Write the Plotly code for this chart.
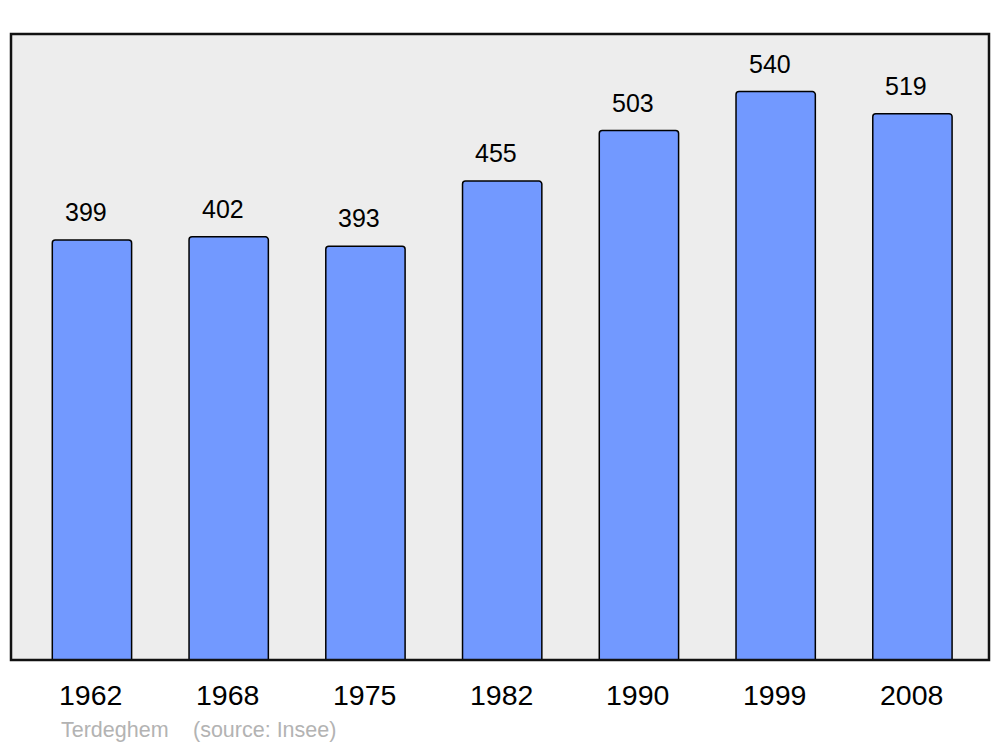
import plotly.graph_objects as go

# ── Data ──────────────────────────────────────────────────────────────────────
years = ["1962", "1968", "1975", "1982", "1990", "1999", "2008"]
population = [399, 402, 393, 455, 503, 540, 519]
commune = "Terdeghem"
source = "(source: Insee)"

BAR_COLOR = "#7299ff"
PLOT_BG = "#ededed"
FONT = "Liberation Sans, Arial, sans-serif"

W, H = 1000, 747
ML, MR, MT, MB = 11, 11, 34, 87

fig = go.Figure(go.Bar(
    x=years, y=population,
    width=0.58,
    marker=dict(color=BAR_COLOR, line=dict(color="#000", width=1.5), cornerradius=3),
    hoverinfo="x+y",
))

# value labels above bars (category index positions), slightly left of centre
for i, v in enumerate(population):
    fig.add_annotation(x=i, y=v, text=str(v), showarrow=False,
                       yanchor="middle", yshift=28, xshift=-6,
                       font=dict(family=FONT, size=25, color="#000"))

# year labels under the frame
for i, yr in enumerate(years):
    fig.add_annotation(x=i, y=0, yref="paper", text=yr, showarrow=False,
                       yanchor="middle", yshift=-35, xshift=-1,
                       font=dict(family=FONT, size=28.5, color="#000"))

# footer
fig.add_annotation(x=(59 - ML) / (W - ML - MR), y=0, xref="paper", yref="paper",
                   text=commune, showarrow=False, xanchor="left", yanchor="middle",
                   yshift=-70, font=dict(family=FONT, size=21.5, color="#b3b3b3"))
fig.add_annotation(x=(191 - ML) / (W - ML - MR), y=0, xref="paper", yref="paper",
                   text=source, showarrow=False, xanchor="left", yanchor="middle",
                   yshift=-70, font=dict(family=FONT, size=21.5, color="#b3b3b3"))

# frame
fig.add_shape(type="rect", xref="paper", yref="paper", x0=0, x1=1, y0=0, y1=1,
              line=dict(color="#111", width=2.5), layer="above")

fig.update_layout(
    width=W, height=H,
    margin=dict(l=ML, r=MR, t=MT, b=MB),
    plot_bgcolor=PLOT_BG, paper_bgcolor="#fff",
    showlegend=False,
    xaxis=dict(type="category", range=[-0.592, 6.56], showticklabels=False,
               showgrid=False, zeroline=False, ticks=""),
    yaxis=dict(range=[0, 594.7], showticklabels=False, showgrid=False,
               zeroline=False, ticks=""),
    font=dict(family=FONT),
)

fig.write_html("out.html", config=dict(displayModeBar=False),
               post_script="document.body.style.margin='0';")
